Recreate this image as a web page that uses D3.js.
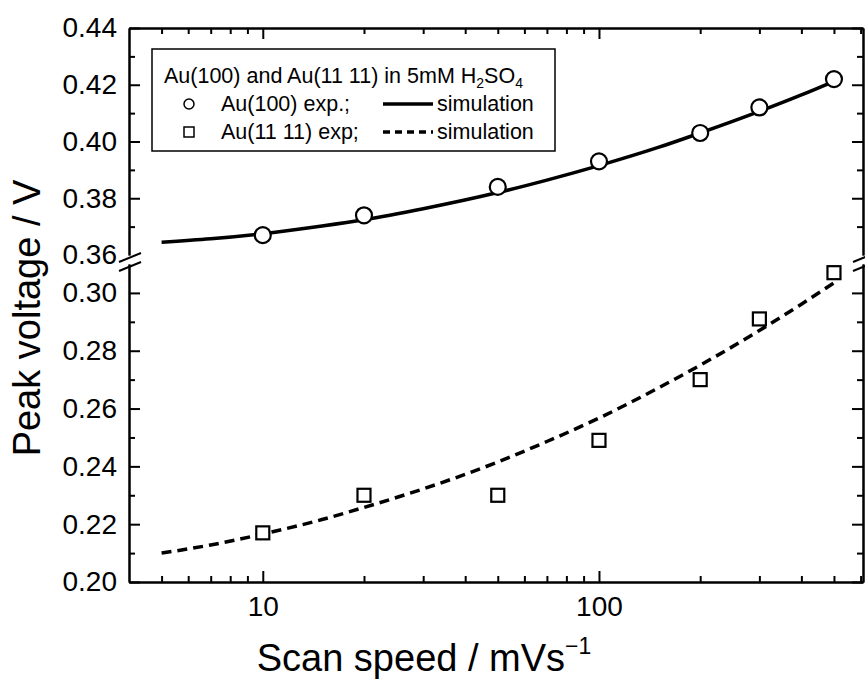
<!DOCTYPE html>
<html>
<head>
<meta charset="utf-8">
<script src="https://cdn.jsdelivr.net/npm/d3@7"></script>
<style>
  body { margin: 0; background: #fff; }
  svg { font-family: Arial, "Liberation Sans", sans-serif; }
  .axis path, .axis line { stroke: #000; stroke-width: 2; }
  .axis text { font-size: 28px; fill: #000; }
</style>
</head>
<body>
<script>
//////////////////
// Data
//////////////////

// measured peaks (scan speed in mV/s, peak voltage in V)
var speeds = [10, 20, 50, 100, 200, 300, 500];
var au100Exp = [0.367, 0.374, 0.384, 0.393, 0.403, 0.412, 0.422];
var au1111Exp = [0.217, 0.230, 0.230, 0.249, 0.270, 0.291, 0.307];

// simulation curves
var simSpeeds = [5, 7, 10, 15, 20, 30, 50, 70, 100, 150, 200, 300, 400, 500];
var au100Sim = [0.3645, 0.3657, 0.3675, 0.3702, 0.3724, 0.3763, 0.3820, 0.3864,
    0.3915, 0.3979, 0.4030, 0.4106, 0.4164, 0.4212];
var au1111Sim = [0.2100, 0.2128, 0.2166, 0.2216, 0.2258, 0.2322, 0.2415, 0.2486,
    0.2567, 0.2671, 0.2750, 0.2870, 0.2961, 0.3035];

var xMajor = [10, 100];
var xMinor = [5, 6, 7, 8, 9, 20, 30, 40, 50, 60, 70, 80, 90, 200, 300, 400, 500, 600];
var yTopMajor = [0.36, 0.38, 0.40, 0.42, 0.44];
var yTopMinor = [0.37, 0.39, 0.41, 0.43];
var yBotMajor = [0.20, 0.22, 0.24, 0.26, 0.28, 0.30];
var yBotMinor = [0.21, 0.23, 0.25, 0.27, 0.29];

////////////////
// Display
////////////////

var margin = {top: 28, right: 2, bottom: 102, left: 129};
var w = 865 - margin.left - margin.right,
    h = 684 - margin.top - margin.bottom;

var svg = d3.select("body").append("svg")
    .attr("width", 865)
    .attr("height", 684);

var g = svg.append("g")
    .attr("transform", "translate(" + margin.left + "," + margin.top + ")");

var x = d3.scaleLog().domain([4, 610]).range([0, w]);
var yTop = d3.scaleLinear().domain([0.36, 0.44]).range([227, 0]);   // upper part of the broken axis
var yBot = d3.scaleLinear().domain([0.20, 0.31]).range([h, 236]);   // lower part

var fmt = d3.format(".2f");

// left + right axes, two pieces each
function yAxes(scale, major, minor) {
    g.append("g").attr("class", "axis")
        .call(d3.axisLeft(scale).tickValues(major).tickFormat(fmt)
            .tickSizeInner(-11).tickSizeOuter(0).tickPadding(12));
    g.append("g").attr("class", "axis")
        .call(d3.axisLeft(scale).tickValues(minor).tickFormat("")
            .tickSizeInner(-6).tickSizeOuter(0));
    g.append("g").attr("class", "axis").attr("transform", "translate(" + w + ",0)")
        .call(d3.axisRight(scale).tickValues(major).tickFormat("")
            .tickSizeInner(-11).tickSizeOuter(0));
    g.append("g").attr("class", "axis").attr("transform", "translate(" + w + ",0)")
        .call(d3.axisRight(scale).tickValues(minor).tickFormat("")
            .tickSizeInner(-6).tickSizeOuter(0));
}
yAxes(yTop, yTopMajor, yTopMinor);
yAxes(yBot, yBotMajor, yBotMinor);

// no tick at 0.36, the break sits there
g.selectAll(".tick").filter(function(d) { return d === 0.36; }).select("line").remove();

// bottom + top
g.append("g").attr("class", "axis").attr("transform", "translate(0," + h + ")")
    .call(d3.axisBottom(x).tickValues(xMajor).tickFormat(d3.format("d"))
        .tickSizeInner(-11).tickSizeOuter(0).tickPadding(14));
g.append("g").attr("class", "axis").attr("transform", "translate(0," + h + ")")
    .call(d3.axisBottom(x).tickValues(xMinor).tickFormat("")
        .tickSizeInner(-6).tickSizeOuter(0));
g.append("g").attr("class", "axis")
    .call(d3.axisTop(x).tickValues(xMajor).tickFormat("")
        .tickSizeInner(-11).tickSizeOuter(0));
g.append("g").attr("class", "axis")
    .call(d3.axisTop(x).tickValues(xMinor).tickFormat("")
        .tickSizeInner(-6).tickSizeOuter(0));

// break marks on both sides
[0, w].forEach(function(bx) {
    [yTop(0.36) + 3, yBot(0.31) + 3].forEach(function(by) {
        g.append("line")
            .attr("x1", bx - 10).attr("y1", by + 4)
            .attr("x2", bx + 12).attr("y2", by - 5)
            .attr("stroke", "#000").attr("stroke-width", 2);
    });
});

// simulation curves
var simTop = simSpeeds.map(function(s, i) { return [s, au100Sim[i]]; });
var simBot = simSpeeds.map(function(s, i) { return [s, au1111Sim[i]]; });

g.append("path")
    .datum(simTop)
    .attr("fill", "none").attr("stroke", "#000").attr("stroke-width", 3.5)
    .attr("d", d3.line().curve(d3.curveMonotoneX)
        .x(function(d) { return x(d[0]); })
        .y(function(d) { return yTop(d[1]); }));

g.append("path")
    .datum(simBot)
    .attr("fill", "none").attr("stroke", "#000").attr("stroke-width", 3.5)
    .attr("stroke-dasharray", "10,6")
    .attr("d", d3.line().curve(d3.curveMonotoneX)
        .x(function(d) { return x(d[0]); })
        .y(function(d) { return yBot(d[1]); }));

// experimental points
g.selectAll("circle.exp")
    .data(speeds)
  .enter().append("circle")
    .attr("class", "exp")
    .attr("cx", function(d) { return x(d); })
    .attr("cy", function(d, i) { return yTop(au100Exp[i]); })
    .attr("r", 8)
    .attr("fill", "#fff").attr("stroke", "#000").attr("stroke-width", 2.2);

var sq = 13;
g.selectAll("rect.exp")
    .data(speeds)
  .enter().append("rect")
    .attr("class", "exp")
    .attr("x", function(d) { return x(d) - sq / 2; })
    .attr("y", function(d, i) { return yBot(au1111Exp[i]) - sq / 2; })
    .attr("width", sq).attr("height", sq)
    .attr("fill", "#fff").attr("stroke", "#000").attr("stroke-width", 2.2);

// legend
var leg = g.append("g").attr("transform", "translate(23,21)");
leg.append("rect")
    .attr("width", 403).attr("height", 102)
    .attr("fill", "#fff").attr("stroke", "#000").attr("stroke-width", 1.5);

var title = leg.append("text").attr("x", 12).attr("y", 34).attr("font-size", 21.5);
title.append("tspan").text("Au(100) and Au(11 11) in 5mM H");
title.append("tspan").attr("font-size", 14).attr("dy", 5).text("2");
title.append("tspan").attr("dy", -5).text("SO");
title.append("tspan").attr("font-size", 14).attr("dy", 5).text("4");

leg.append("circle").attr("cx", 37).attr("cy", 55).attr("r", 5)
    .attr("fill", "#fff").attr("stroke", "#000").attr("stroke-width", 1.5);
leg.append("text").attr("x", 69).attr("y", 62).attr("font-size", 21.5).text("Au(100) exp.;");
leg.append("line").attr("x1", 231).attr("x2", 281).attr("y1", 55).attr("y2", 55)
    .attr("stroke", "#000").attr("stroke-width", 3.5);
leg.append("text").attr("x", 285).attr("y", 62).attr("font-size", 21.5).text("simulation");

leg.append("rect").attr("x", 32).attr("y", 78).attr("width", 10).attr("height", 10)
    .attr("fill", "#fff").attr("stroke", "#000").attr("stroke-width", 1.5);
leg.append("text").attr("x", 69).attr("y", 90).attr("font-size", 21.5).text("Au(11 11) exp;");
leg.append("line").attr("x1", 231).attr("x2", 281).attr("y1", 83).attr("y2", 83)
    .attr("stroke", "#000").attr("stroke-width", 3.5).attr("stroke-dasharray", "7,5");
leg.append("text").attr("x", 285).attr("y", 90).attr("font-size", 21.5).text("simulation");

// axis titles
var xt = svg.append("text")
    .attr("x", 424).attr("y", 671)
    .attr("text-anchor", "middle").attr("font-size", 38)
    .text("Scan speed / mVs");
xt.append("tspan").attr("font-size", 23).attr("dy", -17).text("\u22121");

svg.append("text")
    .attr("transform", "translate(40,318) rotate(-90)")
    .attr("text-anchor", "middle").attr("font-size", 38)
    .text("Peak voltage / V");
</script>
</body>
</html>
